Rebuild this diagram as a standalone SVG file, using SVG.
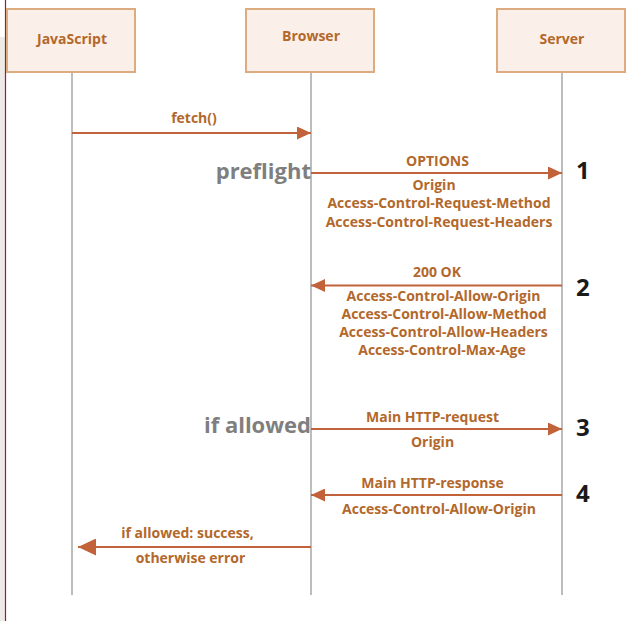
<svg xmlns="http://www.w3.org/2000/svg" width="643" height="621" viewBox="0 0 643 621">
<defs>
<style>
.box{fill:#fbf0e9;stroke:#dcab80;stroke-width:2}
.life{stroke:#bdbdbd;stroke-width:2;fill:none}
.t{font-family:"Open Sans","Liberation Sans",sans-serif;font-weight:bold;fill:#b3682b;text-anchor:middle}
.lbl{font-size:14px}
.hdr{font-size:14px}
.arr{stroke:#c1623a;stroke-width:2;fill:none}
.side{font-family:"Open Sans","Liberation Sans",sans-serif;font-weight:bold;fill:#7f7f7f;font-size:22px;text-anchor:end}
.num{font-family:"Open Sans","Liberation Sans",sans-serif;font-weight:bold;fill:#1a1a1a;font-size:24px}
</style>
<marker id="ah" viewBox="0 0 14 13" refX="14" refY="6.5" markerWidth="14" markerHeight="13" markerUnits="userSpaceOnUse" orient="auto">
<path d="M0,0 L14,6.5 L0,13 Z" fill="#c1623a"/>
</marker>
<marker id="ahb" viewBox="0 0 18 17" refX="18" refY="8.5" markerWidth="18" markerHeight="17" markerUnits="userSpaceOnUse" orient="auto">
<path d="M0,0 L18,8.5 L0,17 Z" fill="#c1623a"/>
</marker>
</defs>
<rect x="0" y="37" width="5" height="584" fill="#edebe7"/>
<line x1="5.5" y1="0" x2="5.5" y2="621" stroke="#a3173e" stroke-width="1.2"/>

<g id="javascript">
<rect class="box" x="7" y="9" width="128" height="63"/>
<text class="t hdr" x="72" y="44">JavaScript</text>
<line class="life" x1="72" y1="73" x2="72" y2="595"/>
</g>
<g id="browser">
<rect class="box" x="246" y="9" width="128" height="63"/>
<text class="t hdr" x="311" y="41">Browser</text>
<line class="life" x1="311" y1="73" x2="311" y2="595"/>
</g>
<g id="server">
<rect class="box" x="497" y="9" width="128" height="63"/>
<text class="t hdr" x="562" y="43.5">Server</text>
<line class="life" x1="562" y1="73" x2="562" y2="595"/>
</g>

<g id="connectors">
<line class="arr" x1="72" y1="133" x2="311" y2="133" marker-end="url(#ah)"/>
<line class="arr" x1="311" y1="173" x2="562" y2="173" marker-end="url(#ah)"/>
<line class="arr" x1="562" y1="285.5" x2="311" y2="285.5" marker-end="url(#ah)"/>
<line class="arr" x1="311" y1="429" x2="562" y2="429" marker-end="url(#ah)"/>
<line class="arr" x1="562" y1="495" x2="311" y2="495" marker-end="url(#ah)"/>
<line class="arr" x1="311" y1="547" x2="78" y2="547" stroke-width="3" marker-end="url(#ahb)"/>
</g>

<g id="labels">
<text class="t lbl" x="194" y="123">fetch()</text>
<text class="t lbl" x="437.5" y="165.5">OPTIONS</text>
<text class="t lbl" x="434" y="190">Origin</text>
<text class="t lbl" x="439" y="208">Access-Control-Request-Method</text>
<text class="t lbl" x="439" y="226.5">Access-Control-Request-Headers</text>
<text class="t lbl" x="437" y="277">200 OK</text>
<text class="t lbl" x="443.5" y="301">Access-Control-Allow-Origin</text>
<text class="t lbl" x="444" y="319">Access-Control-Allow-Method</text>
<text class="t lbl" x="443.5" y="336.5">Access-Control-Allow-Headers</text>
<text class="t lbl" x="442" y="354.5">Access-Control-Max-Age</text>
<text class="t lbl" x="432.5" y="421.5">Main HTTP-request</text>
<text class="t lbl" x="432.5" y="446.5">Origin</text>
<text class="t lbl" x="432.5" y="487.5">Main HTTP-response</text>
<text class="t lbl" x="439" y="514">Access-Control-Allow-Origin</text>
<text class="t lbl" x="187.5" y="537.5">if allowed: success,</text>
<text class="t lbl" x="190.5" y="562.5">otherwise error</text>
<text class="side" x="311" y="179">preflight</text>
<text class="side" x="311" y="433">if allowed</text>
<text class="num" x="576" y="179">1</text>
<text class="num" x="576" y="295.5">2</text>
<text class="num" x="576" y="436">3</text>
<text class="num" x="576" y="501.5">4</text>
</g>
</svg>
